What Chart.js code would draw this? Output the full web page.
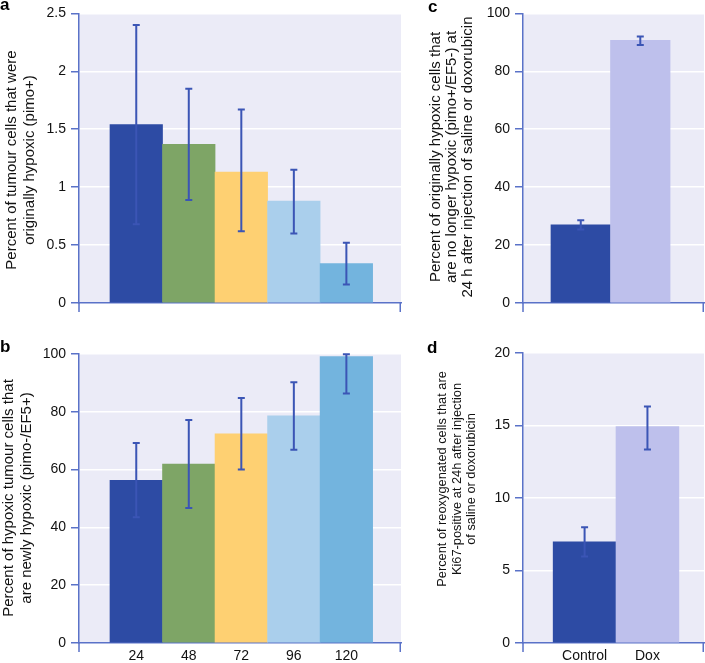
<!DOCTYPE html>
<html>
<head>
<meta charset="utf-8">
<script src="https://cdn.jsdelivr.net/npm/chart.js@4"></script>
<style>
  body { margin: 0; background: #fff; }
  #wrap { position: relative; width: 705px; height: 663px; overflow: hidden; font-family: "Liberation Sans", Arial, sans-serif; color: #111; }
  .panel { position: absolute; }
  .letter { position: absolute; font-weight: bold; font-size: 17px; line-height: 16px; color: #000; }
  .ytitle { position: absolute; white-space: nowrap; text-align: center; transform: translate(-50%, -50%) rotate(-90deg); }
</style>
</head>
<body>
<div id="wrap">
  <div class="panel" style="left:0;top:0;width:410px;height:330px"><canvas id="chartA"></canvas></div>
  <div class="panel" style="left:0;top:330px;width:410px;height:333px"><canvas id="chartB"></canvas></div>
  <div class="panel" style="left:420px;top:0;width:285px;height:330px"><canvas id="chartC"></canvas></div>
  <div class="panel" style="left:420px;top:330px;width:285px;height:333px"><canvas id="chartD"></canvas></div>

  <div class="ytitle" style="left:20px;top:160px;font-size:15px;line-height:18px">Percent of tumour cells that were<br>originally hypoxic (pimo+)</div>
  <div class="ytitle" style="left:17px;top:498px;font-size:15px;line-height:18px">Percent of hypoxic tumour cells that<br>are newly hypoxic (pimo-/EF5+)</div>
  <div class="ytitle" style="left:451px;top:157px;font-size:15px;line-height:16px">Percent of originally hypoxic cells that<br>are no longer hypoxic (pimo+/EF5-) at<br>24 h after injection of saline or doxorubicin</div>
  <div class="ytitle" style="left:457px;top:479px;font-size:12.8px;line-height:14.5px">Percent of reoxygenated cells that are<br>Ki67-positive at 24h after injection<br>of saline or doxorubicin</div>

  <div class="letter" style="left:0;top:-3px">a</div>
  <div class="letter" style="left:0;top:339px">b</div>
  <div class="letter" style="left:428px;top:-1px">c</div>
  <div class="letter" style="left:427px;top:340px">d</div>
</div>
<script>
// ================= DATA =================
const hourLabels = ["24", "48", "72", "96", "120"];
const groupLabels = ["Control", "Dox"];

// a: originally hypoxic (pimo+)
const pimoPos = [1.54, 1.37, 1.13, 0.88, 0.34];
const pimoPosLow = [0.68, 0.89, 0.62, 0.60, 0.16];
const pimoPosHigh = [2.40, 1.85, 1.67, 1.15, 0.52];

// b: newly hypoxic (pimo-/EF5+)
const newlyHyp = [56.3, 61.9, 72.4, 78.6, 99.1];
const newlyHypLow = [43.5, 46.7, 60.0, 66.9, 86.3];
const newlyHypHigh = [69.2, 77.2, 84.8, 90.2, 99.9];

// c: no longer hypoxic (pimo+/EF5-)
const reoxy = [27.0, 90.7];
const reoxyLow = [25.4, 89.1];
const reoxyHigh = [28.6, 92.0];

// d: Ki67-positive
const ki67 = [6.97, 14.93];
const ki67Low = [5.96, 13.35];
const ki67High = [7.98, 16.31];

const hourColors = ["#2d4ba4", "#7ea566", "#fed072", "#aacfec", "#73b4de"];
const groupColors = ["#2d4ba4", "#bec0ec"];

const axisColor = "#5a72c8";
const errColor = "#3b55b5";
const plotBg = "#ebebf7";

// ================= PLUGINS =================
const plotBackground = {
  id: "plotBackground",
  beforeDraw(chart) {
    const { ctx, chartArea: a } = chart;
    ctx.save();
    ctx.fillStyle = plotBg;
    ctx.fillRect(a.left, a.top, a.right - a.left, a.bottom - a.top);
    ctx.restore();
  },
  afterDraw(chart) {
    // little ticks below the x axis at both ends
    const { ctx, chartArea: a } = chart;
    ctx.save();
    ctx.strokeStyle = axisColor;
    ctx.lineWidth = 1.5;
    ctx.beginPath();
    ctx.moveTo(a.left, a.bottom);
    ctx.lineTo(a.left, a.bottom + 9);
    ctx.moveTo(a.right - 0.75, a.bottom);
    ctx.lineTo(a.right - 0.75, a.bottom + 9);
    ctx.stroke();
    ctx.restore();
  }
};

const errorBars = {
  id: "errorBars",
  afterDatasetsDraw(chart, args, opts) {
    const { ctx } = chart;
    const meta = chart.getDatasetMeta(0);
    const y = chart.scales.y;
    ctx.save();
    ctx.strokeStyle = errColor;
    ctx.lineWidth = 2;
    meta.data.forEach((bar, i) => {
      const x = bar.x;
      const lo = y.getPixelForValue(opts.low[i]);
      const hi = y.getPixelForValue(opts.high[i]);
      ctx.beginPath();
      ctx.moveTo(x, lo);
      ctx.lineTo(x, hi);
      ctx.moveTo(x - 3.5, lo);
      ctx.lineTo(x + 3.5, lo);
      ctx.moveTo(x - 3.5, hi);
      ctx.lineTo(x + 3.5, hi);
      ctx.stroke();
    });
    ctx.restore();
  }
};

// ================= CHART =================
function makeChart(id, cfg) {
  const labels = cfg.labels;
  return new Chart(document.getElementById(id), {
    type: "bar",
    data: {
      datasets: [{
        data: cfg.values.map((v, i) => ({ x: i + 1, y: v })),
        backgroundColor: cfg.colors,
        borderWidth: 0,
        barPercentage: 1,
        categoryPercentage: 1
      }]
    },
    options: {
      responsive: true,
      maintainAspectRatio: false,
      animation: false,
      layout: { padding: cfg.padding },
      plugins: {
        legend: { display: false },
        tooltip: { enabled: false },
        errorBars: { low: cfg.low, high: cfg.high }
      },
      scales: {
        x: {
          type: "linear",
          offset: false,
          min: cfg.xMin,
          max: cfg.xMax,
          grid: { display: false, drawTicks: false },
          border: { color: axisColor, width: 1.5 },
          afterBuildTicks: s => { s.ticks = labels.map((_, i) => ({ value: i + 1 })); },
          afterFit: s => { s.height = cfg.xHeight; },
          ticks: {
            display: cfg.showX,
            padding: 5,
            color: "#111",
            font: { family: "Liberation Sans", size: 14 },
            callback: v => labels[v - 1]
          }
        },
        y: {
          min: 0,
          max: cfg.yMax,
          afterFit: s => { s.width = cfg.yWidth; },
          border: { color: axisColor, width: 1.5 },
          grid: {
            color: c => (c.tick && c.tick.value === 0) ? "rgba(0,0,0,0)" : "#ffffff",
            lineWidth: 1.5,
            tickColor: axisColor,
            tickLength: 8
          },
          ticks: {
            stepSize: cfg.yStep,
            padding: 5,
            color: "#111",
            font: { family: "Liberation Sans", size: 14 },
            callback: v => String(v)
          }
        }
      }
    },
    plugins: [plotBackground, errorBars]
  });
}

makeChart("chartA", {
  labels: hourLabels, values: pimoPos, low: pimoPosLow, high: pimoPosHigh, colors: hourColors,
  xMin: -0.09, xMax: 6.04, yMax: 2.5, yStep: 0.5, showX: false,
  yWidth: 79, xHeight: 27, padding: { top: 13, right: 9, left: 0, bottom: 0 }
});

makeChart("chartB", {
  labels: hourLabels, values: newlyHyp, low: newlyHypLow, high: newlyHypHigh, colors: hourColors,
  xMin: -0.09, xMax: 6.04, yMax: 100, yStep: 20, showX: true,
  yWidth: 79, xHeight: 20, padding: { top: 24, right: 9, left: 0, bottom: 0 }
});

makeChart("chartC", {
  labels: groupLabels, values: reoxy, low: reoxyLow, high: reoxyHigh, colors: groupColors,
  xMin: 0.03, xMax: 3.07, yMax: 100, yStep: 20, showX: false,
  yWidth: 103, xHeight: 27, padding: { top: 13, right: 1, left: 0, bottom: 0 }
});

makeChart("chartD", {
  labels: groupLabels, values: ki67, low: ki67Low, high: ki67High, colors: groupColors,
  xMin: 0.02, xMax: 2.9, yMax: 20, yStep: 5, showX: true,
  yWidth: 103, xHeight: 20, padding: { top: 23, right: 1, left: 0, bottom: 0 }
});
</script>
</body>
</html>
